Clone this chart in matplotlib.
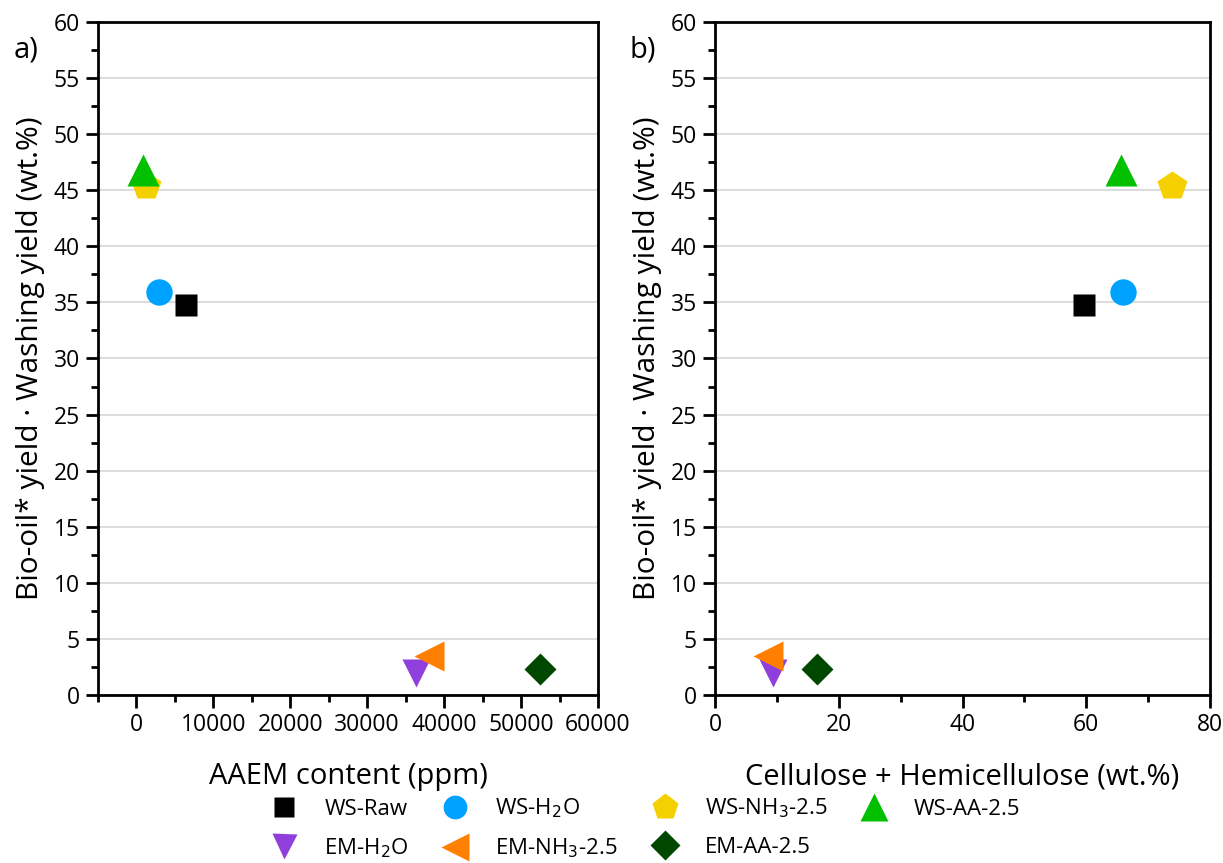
import matplotlib
matplotlib.use("Agg")
import matplotlib.pyplot as plt
from matplotlib.ticker import MultipleLocator

plt.rcParams['font.family'] = ['Open Sans', 'DejaVu Sans']

# ---- data ----
labels = ["WS-Raw", "WS-H$_2$O", "WS-NH$_3$-2.5", "WS-AA-2.5",
          "EM-H$_2$O", "EM-NH$_3$-2.5", "EM-AA-2.5"]
aaem_ppm = [6500, 2900, 1200, 800, 36300, 38000, 52400]
cell_hemi = [59.7, 66.0, 73.8, 65.6, 9.4, 8.5, 16.5]
bio_oil_washing = [34.8, 35.9, 45.4, 46.8, 2.0, 3.5, 2.3]

# ---- styles ----
markers = ['s', 'o', 'p', '^', 'v', '<', 'D']
colors = ['#000000', '#00a2ff', '#f5d000', '#00c000', '#8e3fdc', '#ff7f00', '#004800']
msizes = [16.5, 19, 22, 23, 20, 22, 16.8]

fig = plt.figure(figsize=(12.23, 8.63), dpi=100)
ax1 = fig.add_axes([0.0801, 0.1947, 0.4089, 0.7798])
ax2 = fig.add_axes([0.5846, 0.1947, 0.4048, 0.7798])

def style(ax, xlabel):
    ax.set_ylim(0, 60)
    ax.yaxis.set_major_locator(MultipleLocator(5))
    ax.yaxis.set_minor_locator(MultipleLocator(2.5))
    ax.grid(axis='y', which='major', color='#d9d9d9', lw=1.3, zorder=0)
    ax.set_axisbelow(True)
    for s in ax.spines.values():
        s.set_linewidth(2)
    ax.tick_params(which='major', direction='out', length=9, width=2,
                   labelsize=16.5, top=False, right=False, pad=4)
    ax.tick_params(which='minor', direction='out', length=5, width=2,
                   top=False, right=False)
    ax.set_ylabel("Bio-oil* yield · Washing yield (wt.%)", fontsize=21.5, labelpad=6)
    ax.set_xlabel(xlabel, fontsize=21, labelpad=18)

handles = []
for i in range(len(labels)):
    h, = ax1.plot(aaem_ppm[i], bio_oil_washing[i], ls='none', marker=markers[i],
                  ms=msizes[i], color=colors[i], mec='none', label=labels[i],
                  clip_on=False, zorder=3)
    ax2.plot(cell_hemi[i], bio_oil_washing[i], ls='none', marker=markers[i],
             ms=msizes[i], color=colors[i], mec='none', clip_on=False, zorder=3)
    handles.append(h)

ax1.set_xlim(-5000, 60000)
ax1.xaxis.set_major_locator(MultipleLocator(10000))
ax1.xaxis.set_minor_locator(MultipleLocator(5000))
ax2.set_xlim(0, 80)
ax2.xaxis.set_major_locator(MultipleLocator(20))
ax2.xaxis.set_minor_locator(MultipleLocator(10))

style(ax1, "AAEM content (ppm)")
style(ax2, "Cellulose + Hemicellulose (wt.%)")

ax1.text(-0.144, 0.958, "a)", transform=ax1.transAxes, fontsize=21, ha='center', va='center')
ax2.text(-0.145, 0.958, "b)", transform=ax2.transAxes, fontsize=21, ha='center', va='center')

# legend filled row-wise (matplotlib fills column-wise)
order = [0, 4, 1, 5, 2, 6, 3]
leg = fig.legend(handles=[handles[k] for k in order], labels=[labels[k] for k in order],
                 ncol=4, loc='center', bbox_to_anchor=(0.528, 0.040), frameon=False,
                 fontsize=16, handlelength=1.2, handletextpad=1.2, columnspacing=1.5,
                 labelspacing=0.75, markerscale=0.9, borderaxespad=0, borderpad=0)

fig.savefig("out.png", dpi=100)
